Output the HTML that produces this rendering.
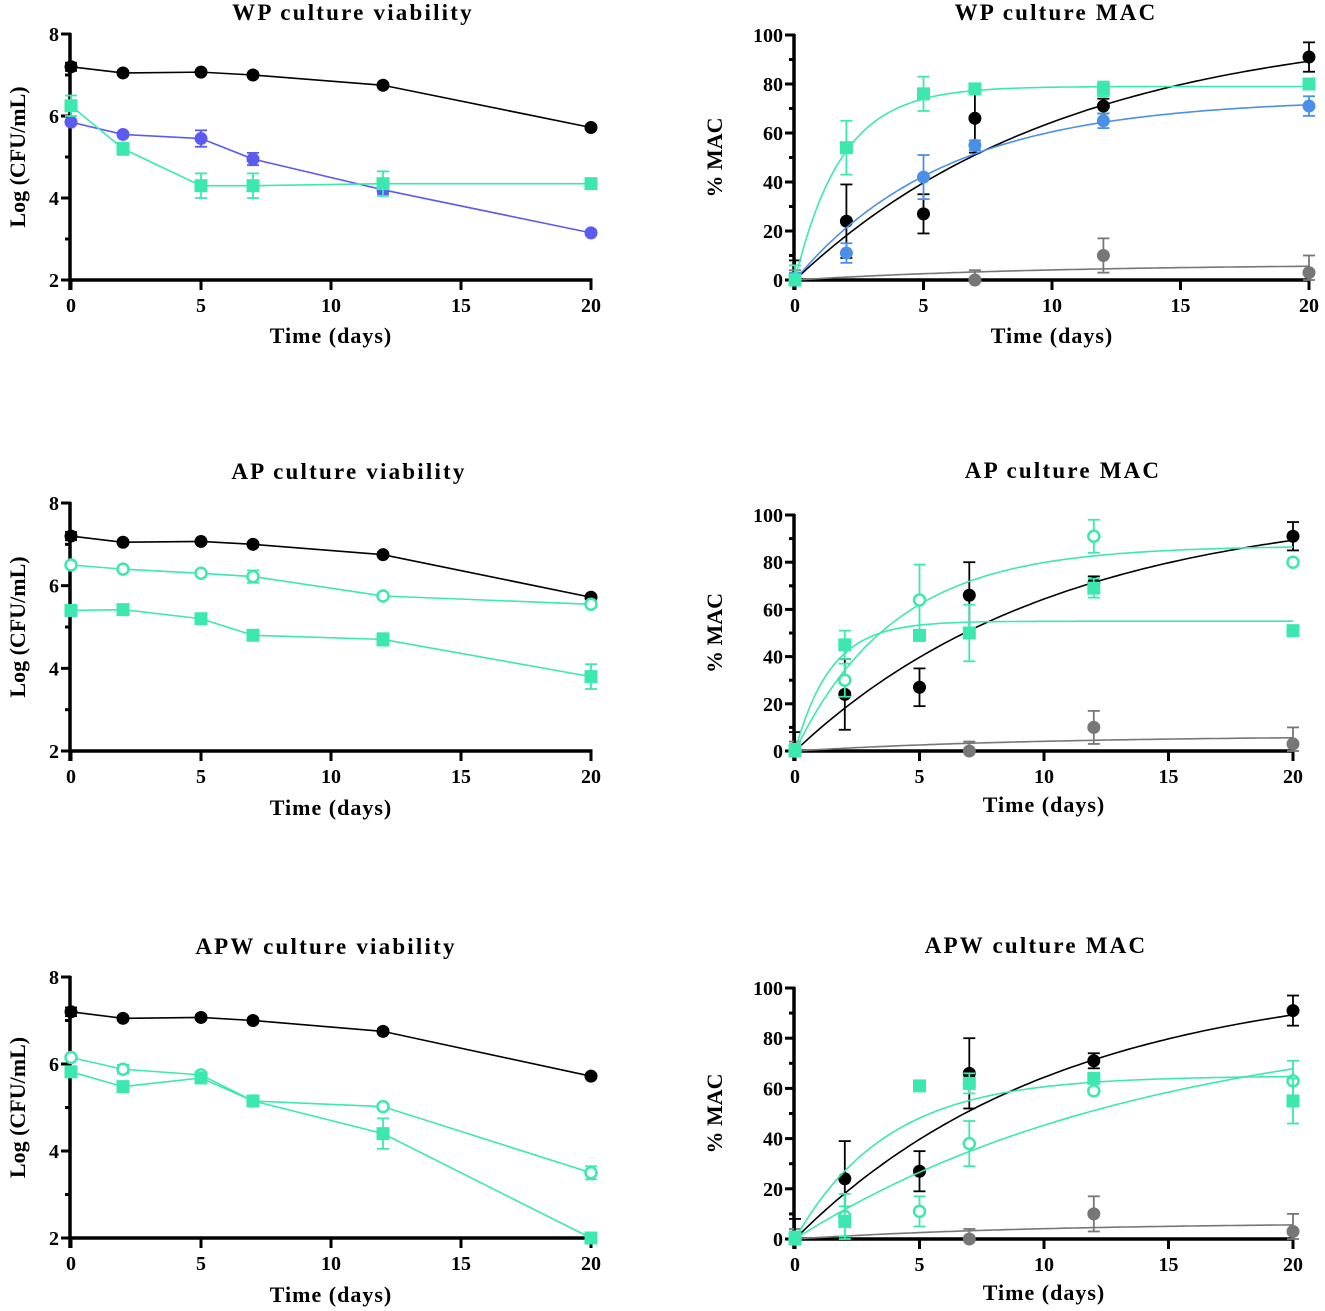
<!DOCTYPE html>
<html><head><meta charset="utf-8"><style>
html,body{margin:0;padding:0;background:#fff;}
svg{display:block;font-family:"Liberation Serif",serif;font-weight:bold;}
</style></head><body>
<svg id="fig" width="1325" height="1311" viewBox="0 0 1325 1311" xmlns="http://www.w3.org/2000/svg"></svg>
<script>
const days = [0, 2, 5, 7, 12, 20];
// Viability (log CFU/mL)
const ctrlViab = [7.2, 7.05, 7.07, 7.0, 6.75, 5.72];
const ctrlViabErr = [0.1, 0.05, 0.05, 0.05, 0.05, 0.05];
const wpCirc = [5.85, 5.55, 5.45, 4.95, 4.2, 3.15];
const wpCircErr = [0.05, 0.05, 0.2, 0.15, 0.1, 0.05];
const wpSq = [6.25, 5.2, 4.3, 4.3, 4.35, 4.35];
const wpSqErr = [0.25, 0.15, 0.3, 0.3, 0.3, 0];
const apOpen = [6.5, 6.4, 6.3, 6.22, 5.75, 5.55];
const apOpenErr = [0.05, 0.05, 0.05, 0.15, 0.05, 0.05];
const apSq = [5.4, 5.42, 5.2, 4.8, 4.7, 3.8];
const apSqErr = [0.05, 0.05, 0.12, 0.12, 0.15, 0.3];
const apwOpen = [6.15, 5.88, 5.75, 5.15, 5.02, 3.5];
const apwOpenErr = [0.05, 0.1, 0.05, 0.05, 0.05, 0.15];
const apwSq = [5.82, 5.48, 5.68, 5.15, 4.4, 2.0];
const apwSqErr = [0.05, 0.08, 0.08, 0.05, 0.35, 0];
// MAC (%)
const ctrlMac = [0, 24, 27, 66, 71, 91];
const ctrlMacErr = [8, 15, 8, 14, 3, 6];
const grayDays = [0, 7, 12, 20];
const grayMac = [0, 0, 10, 3];
const grayMacErr = [4, 4, 7, 7];
const wpMacSq = [0, 54, 76, 78, 78, 80];
const wpMacSqErr = [6, 11, 7, 1, 3, 0];
const wpMacBlue = [0, 11, 42, 55, 65, 71];
const wpMacBlueErr = [3, 4, 9, 2, 3, 4];
const apMacOpenDays = [0, 2, 5, 12, 20];
const apMacOpen = [0, 30, 64, 91, 80];
const apMacOpenErr = [3, 7, 15, 7, 0];
const apMacSq = [0, 45, 49, 50, 69, 51];
const apMacSqErr = [3, 6, 0, 12, 4, 0];
const apwMacOpen = [0, 9, 11, 38, 59, 63];
const apwMacOpenErr = [3, 9, 6, 9, 0, 8];
const apwMacSq = [0, 7, 61, 62, 64, 55];
const apwMacSqErr = [3, 6, 0, 4, 0, 9];
// fitted curve params [plateau, k]
const fitCtrl = [105, 0.095];
const fitGray = [6.5, 0.1];
const fitWpSq = [79, 0.55];
const fitWpBlue = [74, 0.17];
const fitApOpen = [87, 0.25];
const fitApSq = [55, 0.7];
const fitApwSq = [65, 0.27];
const fitApwOpen = [90, 0.07];

const NS = "http://www.w3.org/2000/svg";
const svg = document.getElementById("fig");
const BLACK = "#000", GREEN = "#3de8b0", BLUE = "#5b5bf0", LBLUE = "#4a90e8", GRAY = "#777";

function mk(tag, attrs, parent) {
  const e = document.createElementNS(NS, tag);
  for (const k in attrs) e.setAttribute(k, attrs[k]);
  (parent || svg).appendChild(e);
  return e;
}
function txt(s, x, y, size, anchor, parent, rot) {
  const t = mk("text", {x: x, y: y, "font-size": size, "text-anchor": anchor || "middle", fill: "#000"}, parent);
  if (rot) t.setAttribute("transform", "rotate(-90 " + x + " " + y + ")");
  t.textContent = s;
  return t;
}

function panel(p) {
  const g = mk("g", {});
  
  
  const sx = v => p.x0 + (v / 20) * (p.x1 - p.x0);
  const sy = v => p.yb + (v - p.ymin) / (p.ymax - p.ymin) * (p.yt - p.yb);
  p.sx = sx; p.sy = sy;
  const t = txt(p.title, p.titleX, p.titleY, 23, "middle", g);
  
  
  t.setAttribute("letter-spacing", "2.2");
  const ax = mk("g", {}, g);
  
  
  mk("line", {x1: p.x0 - 1, y1: p.yt - 1, x2: p.x0 - 1, y2: p.yb + 10, stroke: "#000", "stroke-width": 3.5}, ax);
  mk("line", {x1: p.x0 - 1, y1: p.yb, x2: p.x1 + 1.5, y2: p.yb, stroke: "#000", "stroke-width": 3.5}, ax);
  for (let i = 0; i < p.yticks.length; i++) {
    const v = p.yticks[i];
    const y = sy(v);
    mk("line", {x1: p.x0 - 10, y1: y, x2: p.x0, y2: y, stroke: "#000", "stroke-width": 3}, ax);
    const l = txt(String(v), p.x0 - 12, y + 7, 20, "end", ax);
    
    
  }
  for (let i = 0; i < p.yminor.length; i++) {
    const y = sy(p.yminor[i]);
    mk("line", {x1: p.x0 - 6, y1: y, x2: p.x0, y2: y, stroke: "#000", "stroke-width": 3}, ax);
  }
  const xt = [0, 5, 10, 15, 20];
  for (let i = 0; i < xt.length; i++) {
    const x = sx(xt[i]);
    mk("line", {x1: x, y1: p.yb, x2: x, y2: p.yb + 10, stroke: "#000", "stroke-width": 3}, ax);
    const l = txt(String(xt[i]), x, p.yb + 32, 20, "middle", ax);
    
    
  }
  const xl = txt("Time (days)", (p.x0 + p.x1) / 2, p.xlabY, 22, "middle", ax);
  
  
  xl.setAttribute("letter-spacing", "1");
  const yl = txt(p.ylab, p.ylabX, (p.yt + p.yb) / 2, 22, "middle", ax, true);
  
  
  p.g = g;
  return p;
}

function series(p, name, xs, ys, errs, color, shape, connect, fit) {
  const g = mk("g", {}, p.g);
  
  
  if (connect) {
    let d = "";
    for (let i = 0; i < xs.length; i++) d += (i ? "L" : "M") + p.sx(xs[i]) + "," + p.sy(ys[i]);
    mk("path", {d: d, fill: "none", stroke: color, "stroke-width": 1.6}, g);
  }
  if (fit) {
    let d = "";
    for (let i = 0; i <= 100; i++) {
      const x = 20 * i / 100;
      const y = fit[0] * (1 - Math.exp(-fit[1] * x));
      d += (i ? "L" : "M") + p.sx(x).toFixed(1) + "," + p.sy(y).toFixed(1);
    }
    const c = mk("path", {d: d, fill: "none", stroke: color, "stroke-width": 1.6}, g);
    
    
  }
  for (let i = 0; i < xs.length; i++) {
    const x = p.sx(xs[i]), y = p.sy(ys[i]);
    const e = errs[i];
    if (e > 0) {
      const y1 = p.sy(ys[i] + e), y2 = p.sy(Math.max(p.ymin, ys[i] - e));
      mk("line", {x1: x, y1: y1, x2: x, y2: y2, stroke: color, "stroke-width": 1.8}, g);
      mk("line", {x1: x - 6, y1: y1, x2: x + 6, y2: y1, stroke: color, "stroke-width": 1.8}, g);
      mk("line", {x1: x - 6, y1: y2, x2: x + 6, y2: y2, stroke: color, "stroke-width": 1.8}, g);
    }
    let m;
    if (shape === "sq") m = mk("rect", {x: x - 6.5, y: y - 6.5, width: 13, height: 13, fill: color}, g);
    else if (shape === "open") m = mk("circle", {cx: x, cy: y, r: 5.5, fill: "#fff", stroke: color, "stroke-width": 2.5}, g);
    else m = mk("circle", {cx: x, cy: y, r: 6.5, fill: color}, g);
    
    
  }
}

const vt = [2, 4, 6, 8], vm = [3, 5, 7];
const mt = [0, 20, 40, 60, 80, 100], mm = [10, 30, 50, 70, 90];

const p1 = panel({name: "wp-viability-chart", title: "WP culture viability", titleX: 353, titleY: 20, x0: 71, x1: 591, yt: 34, yb: 280, ymin: 2, ymax: 8, yticks: vt, yminor: vm, xlabY: 343, ylab: "Log (CFU/mL)", ylabX: 25});
series(p1, "control-series", days, ctrlViab, ctrlViabErr, BLACK, "dot", true);
series(p1, "wp-circle-series", days, wpCirc, wpCircErr, BLUE, "dot", true);
series(p1, "wp-square-series", days, wpSq, wpSqErr, GREEN, "sq", true);

const p2 = panel({name: "wp-mac-chart", title: "WP culture MAC", titleX: 1056, titleY: 20, x0: 795, x1: 1309, yt: 35, yb: 280, ymin: 0, ymax: 100, yticks: mt, yminor: mm, xlabY: 343, ylab: "% MAC", ylabX: 722});
series(p2, "gray-series", grayDays, grayMac, grayMacErr, GRAY, "dot", false, fitGray);
series(p2, "control-series", days, ctrlMac, ctrlMacErr, BLACK, "dot", false, fitCtrl);
series(p2, "wp-blue-series", days, wpMacBlue, wpMacBlueErr, LBLUE, "dot", false, fitWpBlue);
series(p2, "wp-square-series", days, wpMacSq, wpMacSqErr, GREEN, "sq", false, fitWpSq);

const p3 = panel({name: "ap-viability-chart", title: "AP culture viability", titleX: 349, titleY: 479, x0: 71, x1: 591, yt: 503, yb: 751, ymin: 2, ymax: 8, yticks: vt, yminor: vm, xlabY: 815, ylab: "Log (CFU/mL)", ylabX: 25});
series(p3, "control-series", days, ctrlViab, ctrlViabErr, BLACK, "dot", true);
series(p3, "ap-open-series", days, apOpen, apOpenErr, GREEN, "open", true);
series(p3, "ap-square-series", days, apSq, apSqErr, GREEN, "sq", true);

const p4 = panel({name: "ap-mac-chart", title: "AP culture MAC", titleX: 1063, titleY: 478, x0: 795, x1: 1293, yt: 515, yb: 751, ymin: 0, ymax: 100, yticks: mt, yminor: mm, xlabY: 812, ylab: "% MAC", ylabX: 722});
series(p4, "gray-series", grayDays, grayMac, grayMacErr, GRAY, "dot", false, fitGray);
series(p4, "control-series", days, ctrlMac, ctrlMacErr, BLACK, "dot", false, fitCtrl);
series(p4, "ap-open-series", apMacOpenDays, apMacOpen, apMacOpenErr, GREEN, "open", false, fitApOpen);
series(p4, "ap-square-series", days, apMacSq, apMacSqErr, GREEN, "sq", false, fitApSq);

const p5 = panel({name: "apw-viability-chart", title: "APW culture viability", titleX: 326, titleY: 954, x0: 71, x1: 591, yt: 977, yb: 1238, ymin: 2, ymax: 8, yticks: vt, yminor: vm, xlabY: 1302, ylab: "Log (CFU/mL)", ylabX: 25});
series(p5, "control-series", days, ctrlViab, ctrlViabErr, BLACK, "dot", true);
series(p5, "apw-open-series", days, apwOpen, apwOpenErr, GREEN, "open", true);
series(p5, "apw-square-series", days, apwSq, apwSqErr, GREEN, "sq", true);

const p6 = panel({name: "apw-mac-chart", title: "APW culture MAC", titleX: 1036, titleY: 953, x0: 795, x1: 1293, yt: 988, yb: 1239, ymin: 0, ymax: 100, yticks: mt, yminor: mm, xlabY: 1300, ylab: "% MAC", ylabX: 722});
series(p6, "gray-series", grayDays, grayMac, grayMacErr, GRAY, "dot", false, fitGray);
series(p6, "control-series", days, ctrlMac, ctrlMacErr, BLACK, "dot", false, fitCtrl);
series(p6, "apw-open-series", days, apwMacOpen, apwMacOpenErr, GREEN, "open", false, fitApwOpen);
series(p6, "apw-square-series", days, apwMacSq, apwMacSqErr, GREEN, "sq", false, fitApwSq);
</script>
</body></html>
